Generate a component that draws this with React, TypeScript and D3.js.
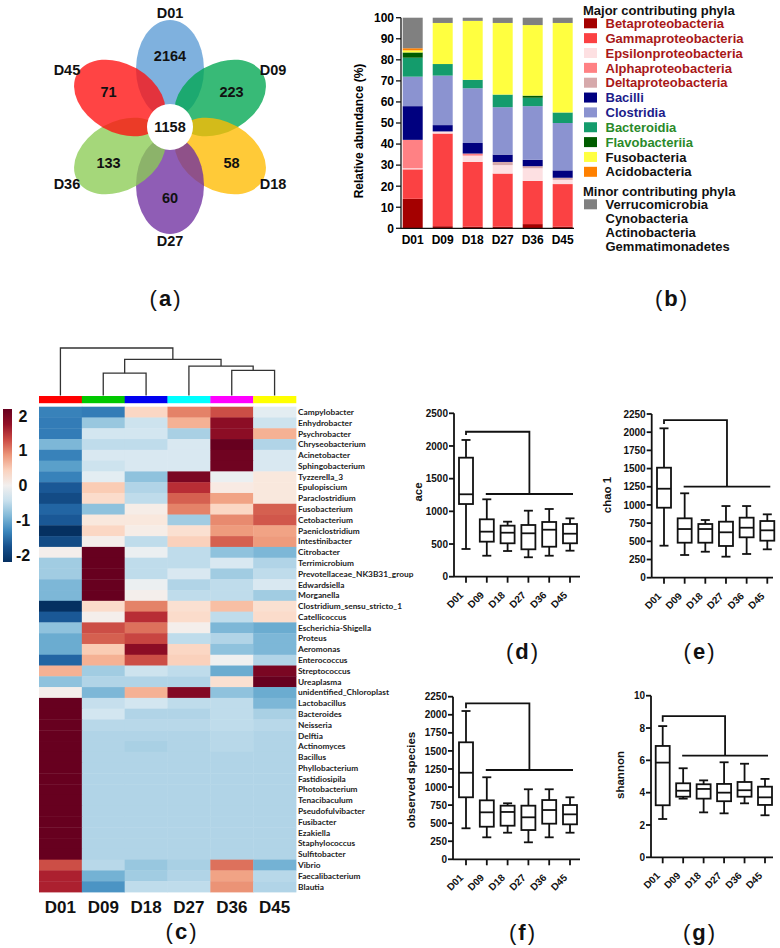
import React from "react";
import * as d3 from "d3";

const FONT = "'Liberation Sans', Arial, sans-serif";
const days = ["D01", "D09", "D18", "D27", "D36", "D45"];

// ---------- (a) Venn: unique OTUs per sampling day, clockwise from top ----------
const vennUnique = [2164, 223, 58, 60, 133, 71];
const vennCore = 1158;
const vennColors = ["#5b9bd5", "#00a651", "#ffbb00", "#7030a0", "#8ccc55", "#ff1010"];

// ---------- (b) relative abundance (%), stacked bottom -> top ----------
const betaproteobacteria = [14, 1, 0.8, 0.8, 2, 0.8];
const gammaproteobacteria = [14, 44, 30.7, 25.2, 20.5, 20.2];
const epsilonproteobacteria = [0.5, 1, 3, 4, 6, 2];
const alphaproteobacteria = [13.5, 0, 1, 0, 0, 0];
const deltaproteobacteria = [0, 0, 0, 1.5, 1, 1];
const bacilli = [16, 3, 5, 3.5, 3, 3.5];
const clostridia = [14, 23.5, 26, 22.5, 25.5, 22.5];
const bacteroidia = [9, 5.5, 4, 6, 4, 5];
const flavobacteriia = [2.5, 0, 0, 0, 1, 0];
const fusobacteria = [1, 19.5, 28, 34, 33.5, 42.5];
const acidobacteria = [1, 0, 0, 0, 0, 0];
const minorPhyla = [14.5, 2.5, 1.5, 2.5, 3.5, 2.5];

const PROTEO = "#a81818";
const FIRMI = "#1c1c8a";
const BACTERO = "#2a8a2a";
const classes = [
  { name: "Betaproteobacteria", values: betaproteobacteria, color: "#a40000", text: PROTEO },
  { name: "Gammaproteobacteria", values: gammaproteobacteria, color: "#fb4143", text: PROTEO },
  { name: "Epsilonproteobacteria", values: epsilonproteobacteria, color: "#fde0e2", text: PROTEO },
  { name: "Alphaproteobacteria", values: alphaproteobacteria, color: "#ff8184", text: PROTEO },
  { name: "Deltaproteobacteria", values: deltaproteobacteria, color: "#d6a9ab", text: PROTEO },
  { name: "Bacilli", values: bacilli, color: "#00007f", text: FIRMI },
  { name: "Clostridia", values: clostridia, color: "#8b93d0", text: FIRMI },
  { name: "Bacteroidia", values: bacteroidia, color: "#149c6c", text: BACTERO },
  { name: "Flavobacteriia", values: flavobacteriia, color: "#005c00", text: BACTERO },
  { name: "Fusobacteria", values: fusobacteria, color: "#ffff40", text: "#111" },
  { name: "Acidobacteria", values: acidobacteria, color: "#ff8000", text: "#111" },
  { name: "Verrucomicrobia", values: minorPhyla, color: "#808080", text: "#111" },
];
const minorNames = ["Cynobacteria", "Actinobacteria", "Gemmatimonadetes"];
const abundanceTicks = d3.range(0, 101, 10);

// ---------- (c) heatmap, z-scored genus abundance ----------
const genera = [
  "Campylobacter", "Enhydrobacter", "Psychrobacter", "Chryseobacterium", "Acinetobacter",
  "Sphingobacterium", "Tyzzerella_3", "Epulopiscium", "Paraclostridium", "Fusobacterium",
  "Cetobacterium", "Paeniclostridium", "Intestinibacter", "Citrobacter", "Terrimicrobium",
  "Prevotellaceae_NK3B31_group", "Edwardsiella", "Morganella", "Clostridium_sensu_stricto_1",
  "Catellicoccus", "Escherichia-Shigella", "Proteus", "Aeromonas", "Enterococcus",
  "Streptococcus", "Ureaplasma", "unidentified_Chloroplast", "Lactobacillus", "Bacteroides",
  "Neisseria", "Delftia", "Actinomyces", "Bacillus", "Phyllobacterium", "Fastidiosipila",
  "Photobacterium", "Tenacibaculum", "Pseudofulvibacter", "Fusibacter", "Ezakiella",
  "Staphylococcus", "Sulfitobacter", "Vibrio", "Faecalibacterium", "Blautia",
];
// rows follow `genera`, columns follow `days`
const zScores = [
  [-1.35, -1.4, 0.4, 1.0, 1.3, -0.2],
  [-1.4, -0.75, -0.4, 0.7, 1.8, -0.4],
  [-1.4, -0.35, -0.35, -0.65, 1.8, 0.7],
  [-0.9, -0.5, -0.5, -0.3, 2.1, -0.6],
  [-1.35, -0.3, -0.3, -0.3, 1.95, -0.3],
  [-1.1, -0.4, -0.3, -0.3, 1.95, -0.3],
  [-1.35, -0.2, -0.8, 1.9, -0.1, 0.2],
  [-1.7, 0.5, -0.6, 1.5, 0.15, 0.2],
  [-1.8, 0.35, -0.5, 1.2, 0.8, 0.2],
  [-1.6, -0.8, 0.1, 1.0, 0.4, 1.2],
  [-1.7, 0.2, 0.2, -0.7, 0.95, 1.25],
  [-2.0, 0.4, 0.1, 0.3, 0.85, 0.8],
  [-1.8, 0.05, -0.5, 0.45, 1.2, 0.85],
  [0.05, 2.1, -0.1, -0.5, -0.8, -0.9],
  [-0.7, 2.1, -0.5, -0.5, -0.3, -0.6],
  [-0.7, 2.1, -0.5, -0.3, -0.7, -0.5],
  [-0.9, 2.1, -0.1, -0.6, -0.5, -0.3],
  [-0.9, 2.1, 0.05, -0.5, -0.5, -0.7],
  [-2.1, 0.35, 1.0, 0.3, 0.6, 0.3],
  [-1.7, 0.05, 1.5, 0.35, -0.5, 0.35],
  [-0.8, 1.3, 1.1, 0.05, -0.9, -1.0],
  [-1.0, 1.2, 1.35, -0.5, -0.6, -0.9],
  [-1.0, 0.5, 1.8, 0.4, -0.8, -0.9],
  [-1.6, 0.7, 1.3, 0.45, -0.05, -0.6],
  [0.7, -0.7, -0.4, -0.5, -1.0, 1.9],
  [-0.8, -0.6, -0.6, -0.6, 0.3, 2.1],
  [0.05, -0.9, 0.7, 1.85, -0.8, -1.0],
  [2.2, -0.45, -0.35, -0.5, -0.5, -0.9],
  [2.2, -0.35, -0.6, -0.6, -0.5, -0.65],
  [2.2, -0.55, -0.55, -0.55, -0.5, -0.55],
  [2.2, -0.6, -0.6, -0.6, -0.55, -0.6],
  [2.2, -0.6, -0.65, -0.6, -0.55, -0.6],
  [2.2, -0.6, -0.6, -0.6, -0.6, -0.6],
  [2.2, -0.6, -0.6, -0.6, -0.6, -0.6],
  [2.2, -0.6, -0.6, -0.6, -0.6, -0.6],
  [2.2, -0.6, -0.6, -0.6, -0.6, -0.6],
  [2.2, -0.6, -0.6, -0.6, -0.6, -0.6],
  [2.2, -0.6, -0.6, -0.6, -0.6, -0.6],
  [2.2, -0.6, -0.6, -0.6, -0.6, -0.6],
  [2.2, -0.6, -0.6, -0.6, -0.6, -0.6],
  [2.2, -0.6, -0.6, -0.6, -0.6, -0.6],
  [2.2, -0.6, -0.6, -0.6, -0.6, -0.6],
  [1.3, -0.55, -0.75, -0.65, 1.1, -0.95],
  [1.6, -0.95, -0.7, -0.6, 0.8, -0.55],
  [1.6, -1.2, -0.5, -0.5, 0.9, -0.6],
];
const groupColors = ["#ff0000", "#00c800", "#0000f0", "#00ffff", "#ff00ff", "#ffff00"];
const legendTicks = [2, 1, 0, -1, -2];
// sample clustering, merge heights relative to the root
const dendro = {
  h: 1,
  children: [
    { name: "D01" },
    {
      h: 0.76,
      children: [
        { h: 0.47, children: [{ name: "D09" }, { name: "D18" }] },
        { h: 0.62, children: [{ name: "D27" }, { h: 0.53, children: [{ name: "D36" }, { name: "D45" }] }] },
      ],
    },
  ],
};

// ---------- (d)-(g) alpha diversity: [min, q1, median, q3, max] ----------
const aceStats = [
  [424, 1112, 1261, 1821, 2092],
  [321, 536, 689, 878, 1184],
  [393, 511, 673, 781, 842],
  [297, 419, 664, 791, 1010],
  [321, 459, 719, 837, 1036],
  [398, 511, 658, 806, 893],
];
const chaoStats = [
  [440, 962, 1223, 1512, 2053],
  [312, 481, 669, 816, 1160],
  [357, 481, 669, 738, 793],
  [289, 436, 624, 770, 985],
  [326, 555, 687, 825, 985],
  [390, 509, 651, 779, 871],
];
const observedStats = [
  [429, 858, 1198, 1619, 2052],
  [304, 451, 650, 816, 1135],
  [368, 465, 655, 742, 775],
  [235, 405, 581, 742, 969],
  [304, 493, 682, 820, 969],
  [368, 484, 622, 751, 858],
];
const shannonStats = [
  [2.37, 3.22, 5.86, 6.89, 8.12],
  [3.63, 3.75, 4.12, 4.58, 5.51],
  [2.78, 3.63, 4.23, 4.52, 4.76],
  [2.72, 3.47, 4.0, 4.54, 5.88],
  [3.34, 3.75, 4.15, 4.66, 5.79],
  [2.6, 3.24, 3.71, 4.37, 4.85],
];
// significance brackets: [D01 leg end, top, lower bar]
const aceBracket = [2168, 2218, 1265];
const chaoBracket = [2112, 2167, 1251];
const observedBracket = [2089, 2158, 1236];
const shannonBracket = [8.39, 8.74, 6.29];

function PanelLabel({ x, y, letter }: { x: number; y: number; letter: string }) {
  return (
    <text x={x} y={y} textAnchor="middle" fontFamily={FONT} fontSize={22} fill="#111">
      <tspan>(</tspan>
      <tspan dx={2} fontWeight="bold">{letter}</tspan>
      <tspan dx={2}>)</tspan>
    </text>
  );
}

function Venn() {
  const cx = 170, cy = 127;
  const angle = d3.scaleLinear().domain([0, 6]).range([-Math.PI / 2, 1.5 * Math.PI]);
  return (
    <g fontFamily={FONT} fontWeight="bold" fill="#111">
      {days.map((d, i) => {
        const a = angle(i);
        const ex = cx + 58 * Math.cos(a);
        const ey = cy + 58 * Math.sin(a);
        return (
          <ellipse key={d} cx={ex} cy={ey} rx={49} ry={34}
            transform={`rotate(${(a * 180) / Math.PI} ${ex} ${ey})`}
            fill={vennColors[i]} fillOpacity={0.78} />
        );
      })}
      <circle cx={cx} cy={cy} r={23} fill="#fff" />
      <text x={cx} y={cy} dy="0.36em" textAnchor="middle" fontSize={14.5}>{vennCore}</text>
      {days.map((d, i) => {
        const a = angle(i);
        return (
          <g key={d}>
            <text x={cx + 71 * Math.cos(a)} y={cy + 71 * Math.sin(a)} dy="0.36em"
              textAnchor="middle" fontSize={14.5}>{vennUnique[i]}</text>
            <text x={cx + 119 * Math.cos(a)} y={cy + 114 * Math.sin(a)} dy="0.36em"
              textAnchor="middle" fontSize={14.5}>{d}</text>
          </g>
        );
      })}
    </g>
  );
}

function Composition() {
  const x = d3.scaleBand().domain(days).range([401, 574.4]).paddingInner(1 / 3).paddingOuter(0.057);
  const y = d3.scaleLinear().domain([0, 100]).range([228.3, 17.7]);
  const table = days.map((d, i) => {
    const row: Record<string, number | string> = { day: d };
    classes.forEach((c) => (row[c.name] = c.values[i]));
    return row;
  });
  const series = d3.stack<any>().keys(classes.map((c) => c.name))(table);
  const lx = 584, ly = d3.scaleLinear().domain([0, 1]).range([23.3, 38.15]);
  return (
    <g fontFamily={FONT}>
      {series.map((s, k) =>
        s.map((seg, i) => (
          <rect key={`${k}-${i}`} x={x(days[i])} width={x.bandwidth()}
            y={y(seg[1])} height={Math.max(0, y(seg[0]) - y(seg[1]))} fill={classes[k].color} />
        ))
      )}
      <line x1={401} x2={401} y1={17.7} y2={228.3} stroke="#111" strokeWidth={1.3} />
      <line x1={401} x2={574} y1={228.3} y2={228.3} stroke="#111" strokeWidth={1.3} />
      {abundanceTicks.map((t) => (
        <g key={t}>
          <line x1={396} x2={401} y1={y(t)} y2={y(t)} stroke="#111" strokeWidth={1.3} />
          <text x={394} y={y(t)} dy="0.36em" textAnchor="end" fontSize={12} fontWeight="bold">{t}</text>
        </g>
      ))}
      {days.map((d) => (
        <text key={d} x={x(d)! + x.bandwidth() / 2} y={244} textAnchor="middle" fontSize={12} fontWeight="bold">{d}</text>
      ))}
      <text transform="translate(363,131) rotate(-90)" textAnchor="middle" fontSize={12} fontWeight="bold">
        Relative abundance (%)
      </text>
      <text x={583} y={14.5} fontSize={13} fontWeight="bold" fill="#111">Major contributing phyla</text>
      {classes.slice(0, 11).map((c, i) => (
        <g key={c.name}>
          <rect x={lx} y={ly(i) - 5} width={13} height={10} fill={c.color} />
          <text x={605.5} y={ly(i)} dy="0.36em" fontSize={13} fontWeight="bold" fill={c.text}>{c.name}</text>
        </g>
      ))}
      <text x={583} y={195.5} fontSize={13} fontWeight="bold" fill="#111">Minor contributing phyla</text>
      <rect x={lx} y={204.3 - 5} width={13} height={10} fill={classes[11].color} />
      {[classes[11].name, ...minorNames].map((n, i) => (
        <text key={n} x={605.5} y={204.3 + i * 14} dy="0.36em" fontSize={13} fontWeight="bold" fill="#111">{n}</text>
      ))}
    </g>
  );
}

function Heatmap() {
  const x = d3.scaleBand().domain(days).range([39, 296]);
  const y = d3.scaleBand().domain(genera).range([406.7, 892]);
  const color = d3.scaleSequential(d3.interpolateRdBu).domain([2, -2]).clamp(true);
  const leg = d3.scaleLinear().domain([-2.2, 2.2]).range([562, 409]);
  const h = d3.scaleLinear().domain([0, 1]).range([395.5, 348]);

  const root = d3.hierarchy<any>(dendro);
  const pos = new Map<any, { x: number; y: number }>();
  root.eachAfter((n) => {
    if (!n.children) pos.set(n, { x: x(n.data.name)! + x.bandwidth() / 2, y: h(0) });
    else pos.set(n, { x: d3.mean(n.children, (c) => pos.get(c)!.x)!, y: h(n.data.h) });
  });
  const links: string[] = [];
  root.each((n) => {
    if (!n.children) return;
    const p = pos.get(n)!;
    const [a, b] = n.children.map((c) => pos.get(c)!);
    links.push(`M${a.x},${a.y}V${p.y}H${b.x}V${b.y}`);
  });
  const stops = d3.range(0, 1.0001, 0.1);

  return (
    <g fontFamily={FONT}>
      {links.map((d, i) => (
        <path key={i} d={d} fill="none" stroke="#333" strokeWidth={1.3} />
      ))}
      {days.map((d, i) => (
        <rect key={d} x={x(d)} y={396} width={x.bandwidth() + 0.3} height={7.2} fill={groupColors[i]} />
      ))}
      {genera.map((g, r) =>
        days.map((d, c) => (
          <rect key={`${g}-${d}`} x={x(d)} y={y(g)} width={x.bandwidth() + 0.4} height={y.bandwidth() + 0.4}
            fill={color(zScores[r][c])} />
        ))
      )}
      {genera.map((g) => (
        <text key={g} x={298} y={y(g)! + y.bandwidth() / 2} dy="0.35em" fontFamily="Lato, sans-serif"
          fontWeight="bold" fontSize={8.3} fill="#222">{g}</text>
      ))}
      {days.map((d) => (
        <text key={d} x={x(d)! + x.bandwidth() / 2} y={913} textAnchor="middle" fontSize={17} fontWeight="bold" fill="#111">{d}</text>
      ))}
      <defs>
        <linearGradient id="zgrad" x1="0" y1="0" x2="0" y2="1">
          {stops.map((t) => (
            <stop key={t} offset={`${t * 100}%`} stopColor={color(leg.invert(409 + t * 153))} />
          ))}
        </linearGradient>
      </defs>
      <rect x={3} y={409} width={9} height={153} fill="url(#zgrad)" />
      {legendTicks.map((t) => (
        <text key={t} x={23} y={leg(t)} dy="0.36em" textAnchor="middle" fontSize={16} fontWeight="bold" fill="#111">{t}</text>
      ))}
    </g>
  );
}

interface BoxProps {
  stats: number[][];
  bracket: number[];
  max: number;
  step: number;
  axisX: number;
  y0: number;
  yTop: number;
  x0: number;
  x1: number;
  axisEnd: number;
  label: string;
  labelX: number;
  labelY: number;
}

function BoxPanel({ stats, bracket, max, step, axisX, y0, yTop, x0, x1, axisEnd, label, labelX, labelY }: BoxProps) {
  const y = d3.scaleLinear().domain([0, max]).range([y0, yTop]);
  const x = d3.scalePoint().domain(days).range([x0, x1]);
  const ticks = d3.range(0, max + step / 2, step);
  const bw = 14, cap = 4.5;
  const [legEnd, top, low] = bracket;
  const xa = x("D01")!, xm = x("D27")! + 1;
  return (
    <g fontFamily={FONT} fontWeight="bold" fill="#111">
      <g stroke="#111" strokeWidth={1.8} fill="none">
        <line x1={axisX} x2={axisX} y1={yTop} y2={y0} />
        <line x1={axisX} x2={axisEnd} y1={y0} y2={y0} />
        {ticks.map((t) => (
          <line key={t} x1={axisX - 5} x2={axisX} y1={y(t)} y2={y(t)} />
        ))}
        {days.map((d) => (
          <line key={d} x1={x(d)} x2={x(d)} y1={y0} y2={y0 + 6} />
        ))}
        {stats.map(([mn, q1, md, q3, mx], i) => {
          const cx = x(days[i])!;
          return (
            <g key={i}>
              <rect x={cx - bw / 2} y={y(q3)} width={bw} height={y(q1) - y(q3)} fill="#fff" />
              <line x1={cx - bw / 2} x2={cx + bw / 2} y1={y(md)} y2={y(md)} />
              <line x1={cx} x2={cx} y1={y(q3)} y2={y(mx)} />
              <line x1={cx} x2={cx} y1={y(q1)} y2={y(mn)} />
              <line x1={cx - cap} x2={cx + cap} y1={y(mx)} y2={y(mx)} />
              <line x1={cx - cap} x2={cx + cap} y1={y(mn)} y2={y(mn)} />
            </g>
          );
        })}
        <path d={`M${xa},${y(legEnd)}V${y(top)}H${xm}V${y(low)}`} />
        <path d={`M${x("D09")! - 1},${y(low)}H${x("D45")! + 3}`} />
      </g>
      {ticks.map((t) => (
        <text key={t} x={axisX - 6} y={y(t)} dy="0.36em" textAnchor="end" fontSize={10}>{t}</text>
      ))}
      {days.map((d) => (
        <text key={d} transform={`translate(${x(d)! - 2},${y0 + 19}) rotate(-45)`} textAnchor="end" fontSize={10}>{d}</text>
      ))}
      <text transform={`translate(${labelX},${labelY}) rotate(-90)`} textAnchor="middle" fontSize={11.5} dy="0.35em">{label}</text>
    </g>
  );
}

export default function App() {
  return (
    <div style={{ position: "absolute", left: 0, top: 0 }}>
      <svg width={780} height={948} viewBox="0 0 780 948" style={{ display: "block", background: "#fff" }}>
        <Venn />
        <Composition />
        <PanelLabel x={165} y={306} letter="a" />
        <PanelLabel x={671} y={306} letter="b" />
        <Heatmap />
        <PanelLabel x={181} y={939} letter="c" />
        <BoxPanel stats={aceStats} bracket={aceBracket} max={2500} step={500} axisX={454} y0={576.7} yTop={413.3}
          x0={466} x1={570} axisEnd={580} label="ace" labelX={418} labelY={492} />
        <BoxPanel stats={chaoStats} bracket={chaoBracket} max={2250} step={250} axisX={651.7} y0={577.7} yTop={414}
          x0={664} x1={767.3} axisEnd={773} label="chao 1" labelX={606.5} labelY={495} />
        <BoxPanel stats={observedStats} bracket={observedBracket} max={2250} step={250} axisX={453} y0={859.3} yTop={696.7}
          x0={466} x1={570} axisEnd={580} label="observed species" labelX={410.5} labelY={780} />
        <BoxPanel stats={shannonStats} bracket={shannonBracket} max={10} step={2} axisX={651} y0={857.3} yTop={695.7}
          x0={662.7} x1={765} axisEnd={773} label="shannon" labelX={620} labelY={775} />
        <PanelLabel x={522} y={659} letter="d" />
        <PanelLabel x={699} y={659} letter="e" />
        <PanelLabel x={522} y={940} letter="f" />
        <PanelLabel x={699} y={940} letter="g" />
      </svg>
    </div>
  );
}
